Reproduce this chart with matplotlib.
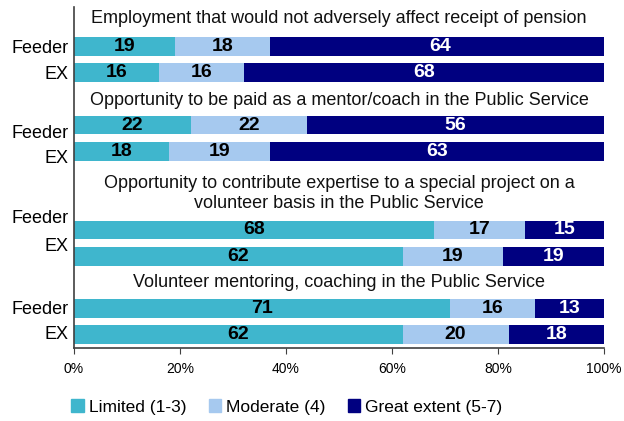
import matplotlib
matplotlib.use('Agg')
import matplotlib.pyplot as plt
import numpy as np
from matplotlib.patches import Patch

plt.rcParams['font.family'] = ['Liberation Sans', 'DejaVu Sans']

topics = ['Employment that would not adversely affect receipt of pension',
          'Opportunity to be paid as a mentor/coach in the Public Service',
          'Opportunity to contribute expertise to a special project on a\nvolunteer basis in the Public Service',
          'Volunteer mentoring, coaching in the Public Service']
groups = ['Feeder', 'EX']

limited = [19, 16, 22, 18, 68, 62, 71, 62]
moderate = [18, 16, 22, 19, 17, 19, 16, 20]
great = [64, 68, 56, 63, 15, 19, 13, 18]

series = ['Limited (1-3)', 'Moderate (4)', 'Great extent (5-7)']
colors = ['#3FB6CD', '#A6C9EF', '#000080']
txtcol = ['black', 'black', 'white']

# row layout (slots from the top)
bar_y = [1.5, 2.5, 4.5, 5.5, 8.5, 9.5, 11.5, 12.5]
title_y = [0.45, 3.55, 7.12, 10.5]
lab_y = [1.52, 2.5, 4.76, 5.71, 8.0, 9.07, 11.47, 12.42]

fig = plt.figure(figsize=(6.24, 4.21), dpi=100)
ax = fig.add_axes([74/624, 1-348/421, 530/624, 341/421])

left = np.zeros(len(limited))
for vals, c, tc, name in zip([limited, moderate, great], colors, txtcol, series):
    vals = np.array(vals)
    ax.barh(bar_y, vals, left=left, height=0.72, color=c, label=name)
    for y, l, v in zip(bar_y, left, vals):
        ax.text(l + v/2, y, str(v), ha='center', va='center', fontsize=14,
                fontweight='bold', color=tc)
    left += vals

for t, y in zip(topics, title_y):
    ax.text(50, y, t, ha='center', va='center', fontsize=13, color='#111111',
            linespacing=1.2)

ax.set_xlim(0, 100)
ax.set_ylim(13, 0)
ax.set_yticks(lab_y)
ax.set_yticklabels(groups * 4, fontsize=13)
ax.tick_params(axis='y', length=0, pad=4)
ax.set_xticks(np.arange(0, 101, 20))
ax.set_xticklabels(['{}%'.format(x) for x in range(0, 101, 20)], fontsize=10)
ax.tick_params(axis='x', length=4, color='#404040', pad=6)
for s in ['top', 'right']:
    ax.spines[s].set_visible(False)
for s in ['left', 'bottom']:
    ax.spines[s].set_color('#404040')
    ax.spines[s].set_linewidth(1.2)

handles = [Patch(color=c, label=n) for c, n in zip(colors, series)]
fig.legend(handles=handles, loc='center', bbox_to_anchor=(287/624, 1-407/421),
           ncol=3, frameon=False, fontsize=12.5, handlelength=0.7,
           handleheight=0.7, handletextpad=0.3, columnspacing=1.3)

fig.savefig('out.png', dpi=100)
